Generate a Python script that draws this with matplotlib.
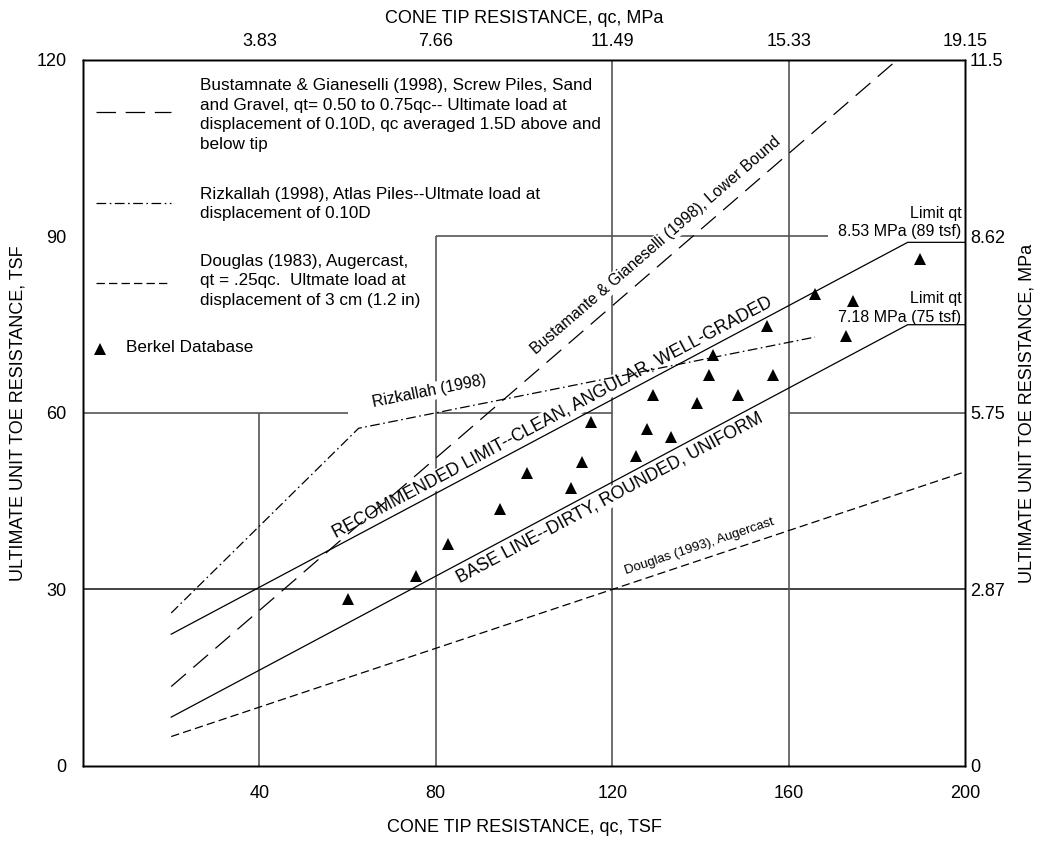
import matplotlib
matplotlib.use('Agg')
import matplotlib.pyplot as plt
import numpy as np

plt.rcParams['font.family'] = ['Liberation Sans', 'DejaVu Sans']
plt.rcParams['lines.scale_dashes'] = False

# axes ticks (TSF) and the MPa equivalents shown on top / right
x_ticks = [40, 80, 120, 160, 200]
x_top_labels = ['3.83', '7.66', '11.49', '15.33', '19.15']
y_ticks = [0, 30, 60, 90, 120]
y_right_labels = ['0', '2.87', '5.75', '8.62', '11.5']

# design lines, qc (tsf) -> qt (tsf)
rec_x = [20, 187, 200]
rec_y = [22.4, 89, 89]
base_x = [20, 187, 200]
base_y = [8.3, 75, 75]
bust_x = [20, 184.6]
bust_y = [13.5, 120]
riz_x = [20, 62.5, 166]
riz_y = [26, 57.4, 72.9]
doug_x = [20, 200]
doug_y = [5, 50]

# Berkel database
berkel_qc = [60.1, 75.6, 82.7, 94.6, 100.7, 110.6, 113.1, 115.3, 125.4, 127.9, 129.2,
             133.4, 139.3, 141.9, 142.8, 148.5, 155.0, 156.4, 166.1, 173.0, 174.6, 189.9]
berkel_qt = [28.3, 32.3, 37.8, 43.7, 49.8, 47.3, 51.6, 58.4, 52.6, 57.2, 63.0,
             55.9, 61.7, 66.4, 69.9, 63.0, 74.8, 66.4, 80.3, 73.1, 79.0, 86.2]

LONG = (0, (14, 7))
DASHDOT = (0, (7, 2.5, 1.2, 2.5))
SHORT = (0, (6, 3))

W, H = 1043, 842
fig = plt.figure(figsize=(W / 100, H / 100), dpi=100)
ax = fig.add_axes([0.0796, 0.0903, 0.8456, 0.8385])
ax.set_xlim(0, 200)
ax.set_ylim(0, 120)

# partial grid, like the original drawing
gc = '#555555'
ax.hlines(30, 0, 200, color='#222222', lw=1.2, zorder=1)
ax.hlines([60, 60, 60], [0, 80, 160], [60, 120, 200], color=gc, lw=1.2, zorder=1)
ax.hlines(90, 80, 169, color=gc, lw=1.2, zorder=1)
ax.vlines(40, 0, 60, color=gc, lw=1.2, zorder=1)
ax.vlines(80, 0, 90, color=gc, lw=1.2, zorder=1)
ax.vlines([120, 160], 0, 120, color=gc, lw=1.2, zorder=1)

lk = dict(color='black', lw=0.9, zorder=4)
ax.plot(rec_x, rec_y, '-', **lk)
ax.plot(base_x, base_y, '-', **lk)
ax.plot(bust_x, bust_y, linestyle=LONG, **lk)
ax.plot(riz_x, riz_y, linestyle=DASHDOT, **lk)
ax.plot(doug_x, doug_y, linestyle=SHORT, **lk)
ax.plot(berkel_qc, berkel_qt, '^', color='black', ms=8, mew=0, zorder=5)

def slope(xs, ys, i=0):
    return np.degrees(np.arctan((ys[i + 1] - ys[i]) / (xs[i + 1] - xs[i])))

wb = dict(facecolor='white', edgecolor='none', pad=1)
rk = dict(ha='center', va='center', rotation_mode='anchor',
          transform_rotates_text=True, bbox=wb, zorder=3)
ax.text(130, 88.5, 'Bustamante & Gianeselli (1998), Lower Bound',
        rotation=slope(bust_x, bust_y), fontsize=11.3, **rk)
ax.text(78.5, 63.6, 'Rizkallah (1998)', rotation=slope(riz_x, riz_y, 1),
        fontsize=11.5, **rk)
ax.text(106.5, 59.2, 'RECOMMENDED LIMIT--CLEAN, ANGULAR, WELL-GRADED',
        rotation=slope(rec_x, rec_y), fontsize=12.7, **rk)
ax.text(119.5, 45.6, 'BASE LINE--DIRTY, ROUNDED, UNIFORM',
        rotation=slope(base_x, base_y), fontsize=12.7, **rk)
ax.text(139.8, 37.3, 'Douglas (1993), Augercast',
        rotation=slope(doug_x, doug_y), fontsize=9.5, **rk)

ax.text(199.2, 89.5, 'Limit qt\n8.53 MPa (89 tsf)', ha='right', va='bottom',
        multialignment='right', fontsize=11.5, linespacing=1.3, zorder=3)
ax.text(199.2, 75.0, 'Limit qt\n7.18 MPa (75 tsf)', ha='right', va='bottom',
        multialignment='right', fontsize=11.5, linespacing=1.3, zorder=3)

# hand-drawn key in the upper left
ta = ax.transAxes
ax.plot([0.0147, 0.0998], [0.926, 0.926], transform=ta, linestyle=LONG, **lk)
ax.plot([0.0147, 0.0998], [0.798, 0.798], transform=ta, linestyle=DASHDOT, **lk)
ax.plot([0.0147, 0.0998], [0.684, 0.684], transform=ta, linestyle=SHORT, **lk)
ax.plot([0.0187], [0.591], '^', transform=ta, color='black', ms=8, mew=0)
kt = dict(transform=ta, ha='left', va='center', fontsize=12.3, linespacing=1.4)
ax.text(0.1327, 0.922, 'Bustamnate & Gianeselli (1998), Screw Piles, Sand\n'
        'and Gravel, qt= 0.50 to 0.75qc-- Ultimate load at\n'
        'displacement of 0.10D, qc averaged 1.5D above and\nbelow tip', **kt)
ax.text(0.1327, 0.796, 'Rizkallah (1998), Atlas Piles--Ultmate load at\n'
        'displacement of 0.10D', **kt)
ax.text(0.1327, 0.687, 'Douglas (1983), Augercast,\n'
        'qt = .25qc.  Ultmate load at\ndisplacement of 3 cm (1.2 in)', **kt)
ax.text(0.0488, 0.593, 'Berkel Database', **kt)

# ticks and labels
ax.set_xticks(x_ticks)
ax.set_yticks(y_ticks)
ax.tick_params(length=0, labelsize=13)
ax.tick_params(axis='x', pad=13.5)
ax.tick_params(axis='y', pad=12)

axt = ax.twiny()
axt.set_xlim(0, 200)
axt.set_xticks(x_ticks)
axt.set_xticklabels(x_top_labels)
axt.tick_params(length=0, labelsize=13, pad=7.5)

axr = ax.twinx()
axr.set_ylim(0, 120)
axr.set_yticks(y_ticks)
axr.set_yticklabels(y_right_labels)
axr.tick_params(length=0, labelsize=13, pad=3.5)

lab = dict(fontsize=13, ha='center', va='center')
fig.text(524 / W, 1 - 828 / H, 'CONE TIP RESISTANCE, qc, TSF', **lab)
fig.text(524 / W, 1 - 18.5 / H, 'CONE TIP RESISTANCE, qc, MPa', **lab)
fig.text(18 / W, 1 - 413 / H, 'ULTIMATE UNIT TOE RESISTANCE, TSF', rotation=90, **lab)
fig.text(1027 / W, 1 - 413 / H, 'ULTIMATE UNIT TOE RESISTANCE, MPa', rotation=90, **lab)

for a in (ax, axt, axr):
    for s in a.spines.values():
        s.set_linewidth(1.0)
        s.set_color('black')

fig.savefig('out.png', dpi=100)
